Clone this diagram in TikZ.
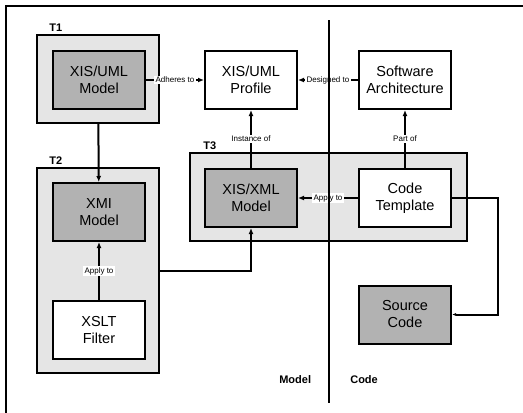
\documentclass[tikz,border=0pt]{standalone}
\usepackage{fontspec}
\setmainfont{Liberation Sans}
\usetikzlibrary{arrows.meta}

\begin{document}
\begin{tikzpicture}[x=1pt,y=-1pt,line width=2pt,
    group/.style={draw,fill=black!10,minimum width=122pt},
    dark/.style={draw,fill=black!30,minimum width=92pt,minimum height=58pt,align=center,font=\fontsize{14.5}{17}\selectfont},
    light/.style={draw,fill=white,minimum width=92pt,minimum height=58pt,align=center,font=\fontsize{14.5}{17}\selectfont},
    tag/.style={font=\bfseries\fontsize{11}{12}\selectfont,anchor=base west},
    lbl/.style={fill=white,inner sep=1.2pt,font=\fontsize{8}{9}\selectfont},
    arr/.style={-{Latex[length=6pt,width=5pt]}}]
        \useasboundingbox (0,0) rectangle (523,413);
        % outer frame
        \draw (6,413) -- (6,6) -- (523,6);
        % groups
        \draw (98,79)    node[group,minimum height=88pt] (t1) {};
        \draw (98,270.5) node[group,minimum height=205pt] (t2) {};
        \draw (328.5,197) node[group,minimum width=277pt,minimum height=88pt] (t3) {};
        \node[tag] at (45,31)  {T1};
        \node[tag] at (45,164) {T2};
        \node[tag] at (199,149) {T3};
        % boxes
        \draw (99,80)    node[dark]  (umlmodel) {XIS/UML\\Model};
        \draw (251,80)   node[light] (profile)  {XIS/UML\\Profile};
        \draw (405,80)   node[light] (arch)     {Software\\Architecture};
        \draw (99,212)   node[dark]  (xmi)      {XMI\\Model};
        \draw (99,330)   node[light] (xslt)     {XSLT\\Filter};
        \draw (251,198)  node[dark]  (xmlmodel) {XIS/XML\\Model};
        \draw (405,198)  node[light] (template) {Code\\Template};
        \draw (405,314.5) node[dark] (source)   {Source\\Code};
        % connectors
        \draw[arr] (umlmodel) -- (profile) node [midway, lbl] {Adheres to};
        \draw[arr] (arch) -- (profile) node [midway, lbl] {Designed to};
        \draw[arr] (xmlmodel) -- (profile) node [midway, lbl] {Instance of};
        \draw[arr] (template) -- (arch) node [midway, lbl] {Part of};
        \draw[arr] (template) -- (xmlmodel) node [midway, lbl] {Apply to};
        \draw[arr] (t1) -- (xmi);
        \draw[arr] (xslt) -- (xmi) node [midway, lbl] {Apply to};
        \draw[arr] (t2.east) -| (xmlmodel.south);
        \draw[-{Latex[length=4pt,width=3pt]}] (template.east) -- ++(46,0) |- (source.east);
        % model / code split
        \coordinate (septop) at (329,20);
        \coordinate (sepbot) at (329,403);
        \draw (septop) -- (sepbot);
        \node[tag] at (275,383) {Model};
        \node[tag] at (346,383) {Code};
    \end{tikzpicture}
\end{document}
